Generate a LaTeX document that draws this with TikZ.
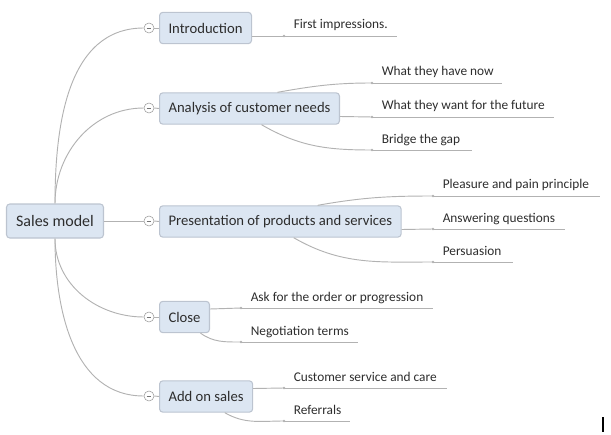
\documentclass[tikz,border=0pt]{standalone}
\usepackage{fontspec}
\setmainfont{Carlito}
\usetikzlibrary{positioning}

\definecolor{boxfill}{RGB}{220,230,242}
\definecolor{boxline}{RGB}{188,196,208}
\definecolor{lnk}{RGB}{178,178,178}
\definecolor{txt}{RGB}{45,45,45}

\tikzset{
  topic/.style={draw=boxline, fill=boxfill, rounded corners=2.5pt, line width=0.8pt,
    minimum height=23.5pt, inner xsep=6.75pt, text=txt, font=\fontsize{11}{13}\selectfont},
  root/.style={topic, minimum width=72.75pt, minimum height=25.5pt, font=\fontsize{12}{14}\selectfont},
  fold/.style={circle, draw=gray!80, fill=white, minimum size=7.5pt, inner sep=0pt,
    path picture={\draw[gray!90!black, line width=0.7pt] ([xshift=-1.8pt]path picture bounding box.center) -- ([xshift=1.8pt]path picture bounding box.center);}},
  leaf/.style={anchor=base west, inner sep=0pt, text=txt, font=\fontsize{10}{12}\selectfont},
  branch/.style={lnk, line width=0.7pt},
}

\begin{document}
\begin{tikzpicture}[x=0.75pt, y=-0.75pt]
\useasboundingbox (0,0) rectangle (611,435);

%Mitte
\node[root] (sales) at (55,221) {Sales model};

%Klappknoepfe
\foreach \i/\py in {1/28,2/108,3/221,4/317,5/396}
  \node[fold] (c\i) at (149,\py) {};

%Hauptaeste
\node[topic, anchor=west] (intro) at (159,28) {Introduction};
\node[topic, anchor=west] (analysis) at (159,108.5) {Analysis of customer needs};
\node[topic, anchor=west] (present) at (159,221.5) {Presentation of products and services};
\node[topic, anchor=west] (close) at (159,317) {Close};
\node[topic, anchor=west] (addon) at (159,396.5) {Add on sales};

\draw[branch] (sales.north) to[out=90, in=180] (c1.west);
\draw[branch] (sales.north) to[out=90, in=180] (c2.west);
\draw[branch] (sales.east) -- (c3.west);
\draw[branch] (sales.south) to[out=-90, in=180] (c4.west);
\draw[branch] (sales.south) to[out=-90, in=180] (c5.west);

\foreach \n/\m in {c1/intro,c2/analysis,c3/present,c4/close,c5/addon}
  \draw[branch] (\n.east) -- (\m.west);

%Blaetter: Name / Strich x / Strich y / Laenge / Text
\foreach \nm/\px/\py/\len/\txt in {
    first/284/36/113/First impressions.,
    havenow/372/83/130/What they have now,
    wantfut/372/117/182/What they want for the future,
    gap/372/150/100/Bridge the gap,
    pleasure/433/196/167/Pleasure and pain principle,
    answer/433/229/132/Answering questions,
    persuade/433/262/80/Persuasion,
    askorder/241/308/192/Ask for the order or progression,
    negot/241/342/117/Negotiation terms,
    service/284/388/163/Customer service and care,
    referral/284/421/66/Referrals}{
  \coordinate (\nm dot) at (\px,\py);
  \node[leaf] (\nm) at (\px+9.5,\py-7) {\txt};
  \draw[branch] (\nm dot) -- ++(\len,0);
  \fill[branch] (\nm dot) circle (1.1pt);
}

%Verbindungen zu den Blaettern
\draw[branch] ([yshift=-6pt]intro.east) -- (firstdot);
\draw[branch] ([xshift=21pt]analysis.north) to[out=10, in=180] (havenowdot);
\draw[branch] ([yshift=-6pt]analysis.east) -- (wantfutdot);
\draw[branch] ([xshift=9pt]analysis.south) to[out=-30, in=180] (gapdot);
\draw[branch] ([xshift=28pt]present.north) to[out=10, in=180] (pleasuredot);
\draw[branch] ([yshift=-6pt]present.east) -- (answerdot);
\draw[branch] ([xshift=10pt]present.south) to[out=-30, in=180] (persuadedot);
\draw[branch] ([yshift=6pt]close.east) -- (askorderdot);
\draw[branch] ([xshift=12pt]close.south) to[out=-35, in=180] (negotdot);
\draw[branch] ([yshift=6pt]addon.east) -- (servicedot);
\draw[branch] ([xshift=14pt]addon.south) to[out=-30, in=180] (referraldot);

%Cursor
\draw[black, line width=0.8pt] (603,417) -- (603,432);
\end{tikzpicture}
\end{document}
